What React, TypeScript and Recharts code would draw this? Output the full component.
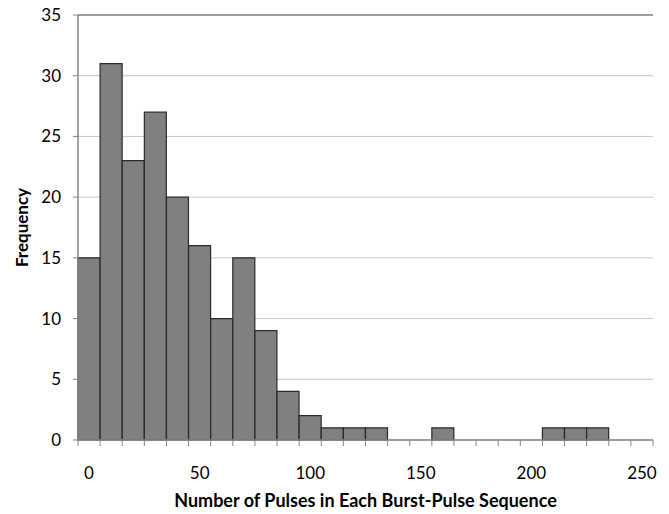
import { Bar, BarChart, CartesianGrid, ReferenceLine, XAxis, YAxis } from 'recharts';

const BINS = [
  0, 10, 20, 30, 40, 50, 60, 70, 80, 90, 100, 110, 120, 130, 140, 150, 160, 170, 180, 190, 200, 210, 220, 230, 240, 250
];
const FREQUENCY = [15, 31, 23, 27, 20, 16, 10, 15, 9, 4, 2, 1, 1, 1, 0, 0, 1, 0, 0, 0, 0, 1, 1, 1, 0, 0];
const Y_TICKS = [0, 5, 10, 15, 20, 25, 30, 35];
const LABELED_BINS = [0, 50, 100, 150, 200, 250];

const data = BINS.map((bin, i) => ({ bin, count: FREQUENCY[i] }));

const FONT = 'Lato, "Open Sans", sans-serif';
const AXIS_GRAY = '#868686';

function BinTick(props: any) {
  const { x, y, payload, index, visibleTicksCount } = props;
  const half = payload.offset ?? 0;
  const last = index === visibleTicksCount - 1;
  return (
    <g>
      <line x1={x - half} x2={x - half} y1={y} y2={y + 6} stroke={AXIS_GRAY} strokeWidth={1} />
      {last && <line x1={x + half} x2={x + half} y1={y} y2={y + 6} stroke={AXIS_GRAY} strokeWidth={1} />}
      {LABELED_BINS.includes(payload.value) && (
        <text x={x} y={y + 32} textAnchor="middle" dominantBaseline="central" fill="#000" fontSize={17} fontFamily={FONT}>
          {payload.value}
        </text>
      )}
    </g>
  );
}

export default function App() {
  return (
    <div style={{ position: 'absolute', left: 0, top: 0, width: 669, height: 514, background: '#fff' }}>
      <BarChart width={669} height={514} data={data} margin={{ top: 15, right: 16, left: 0, bottom: 0 }} barCategoryGap={0}>
        <CartesianGrid vertical={false} stroke="#c6c6c6" strokeWidth={1} />
        <ReferenceLine y={35} stroke={AXIS_GRAY} strokeWidth={1.5} />
        <XAxis
          dataKey="bin"
          type="category"
          interval={0}
          height={74}
          tickSize={0}
          tickMargin={0}
          tickLine={false}
          axisLine={{ stroke: AXIS_GRAY, strokeWidth: 1.5 }}
          tick={<BinTick />}
          label={{
            value: 'Number of Pulses in Each Burst-Pulse Sequence',
            position: 'insideBottom',
            offset: 7,
            fill: '#000',
            fontSize: 18,
            fontWeight: 700,
            fontFamily: FONT
          }}
        />
        <YAxis
          width={78}
          domain={[0, 35]}
          ticks={Y_TICKS}
          interval={0}
          tickSize={5}
          tickMargin={12}
          tickLine={{ stroke: AXIS_GRAY }}
          axisLine={{ stroke: AXIS_GRAY, strokeWidth: 1.5 }}
          tick={{ fill: '#000', fontSize: 17, fontFamily: FONT }}
          label={{
            value: 'Frequency',
            angle: -90,
            position: 'insideLeft',
            offset: 22,
            fill: '#000',
            fontSize: 17,
            fontWeight: 700,
            fontFamily: FONT,
            style: { textAnchor: 'middle' }
          }}
        />
        <YAxis
          yAxisId="frame"
          orientation="right"
          width={0}
          domain={[0, 35]}
          tick={false}
          tickLine={false}
          axisLine={{ stroke: AXIS_GRAY, strokeWidth: 1.5 }}
        />
        <Bar dataKey="count" fill="#808080" stroke="#2a2a2a" strokeWidth={1.2} isAnimationActive={false} />
      </BarChart>
    </div>
  );
}
